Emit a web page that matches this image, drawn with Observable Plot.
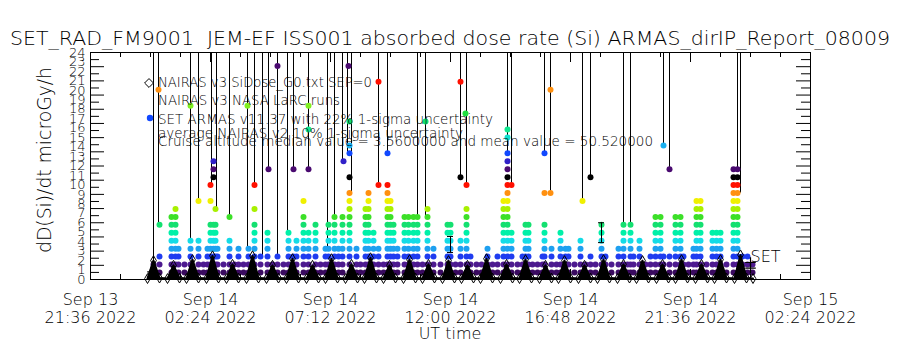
<!DOCTYPE html>
<html><head><meta charset="utf-8">
<script src="https://cdn.jsdelivr.net/npm/d3@7"></script>
<script src="https://cdn.jsdelivr.net/npm/@observablehq/plot@0.6"></script>
<style>body{margin:0;background:#fff;} svg{display:block} svg text{font-weight:200;}</style>
</head><body><div id="chart"></div>
<script>
// ---------- texts ----------
const titleText = "SET_RAD_FM9001  JEM-EF ISS001 absorbed dose rate (Si) ARMAS_dirIP_Report_08009";
const yLabel = "dD(Si)/dt microGy/h";
const xLabel = "UT time";
const legendLines = [
  "NAIRAS v3 SiDose_G0.txt SEP=0",
  "NAIRAS v3 NASA LaRC runs",
  "SET ARMAS v11.37 with 22% 1-sigma uncertainty",
  "average NAIRAS v2 10% 1-sigma uncertainty",
  "Cruise altitude median value = 3.5600000 and mean value = 50.520000"
];
const setLabel = "SET";

// ---------- axes (hours after Sep 13 21:36 UT) ----------
const xTickHours = [0, 4.8, 9.6, 14.4, 19.2, 24, 28.8];
const xTickLabels = ["Sep 13\n21:36 2022","Sep 14\n02:24 2022","Sep 14\n07:12 2022","Sep 14\n12:00 2022","Sep 14\n16:48 2022","Sep 14\n21:36 2022","Sep 15\n02:24 2022"];
const yTickLabels = [0,1,2,3,4,5,6,7,8,9,10,11,12,13,14,15,16,17,18,19,20,21,22,23,24];

// ---------- quantized SET dose levels and their colours ----------
const doseLevels = [0.74,1.58,2.42,3.26,4.10,4.94,5.78,6.62,7.46,8.30,9.14,9.98,10.82,11.66,12.50,13.34,14.18,15.02,15.86,16.70,17.54,18.38,19.22,20.06,20.90,21.74,22.58];
const levelColors = ["#3a0a60","#4d1a8f","#1f3cf0","#1ea0f0","#14dce6","#00f0a8","#14e070","#3ce028","#a8f000","#f0f000","#ff9010","#ff1000","#000000","#4a0a70","#3020c8","#1048ff","#18b0f0","#10e0d0","#10e890","#10e070","#20e040","#80f020","#e8f000","#ff9010","#ff1000","#000000","#4a0a70"];

// SET ARMAS columns: [hour, highest contiguous level]
const setColumns = [
 [2.52,2],[2.76,3],[3.24,8],[3.40,9],[3.52,4],[3.76,2],[4.00,5],[4.32,5],[4.52,2],[4.68,4],
 [4.80,7],[4.92,7],[5.00,7],[5.08,4],[5.32,2],[5.56,5],[5.76,2],[5.92,4],[6.12,2],[6.32,4],
 [6.56,7],[6.80,3],[7.08,6],[7.28,2],[7.48,3],[7.72,2],[7.92,6],[8.12,3],[8.24,5],[8.52,8],
 [8.72,6],[9.00,7],[9.20,2],[9.40,4],[9.52,7],[9.76,8],[9.92,4],[10.08,8],[10.36,11],[10.64,4],
 [10.80,2],[11.00,9],[11.12,11],[11.32,6],[11.52,4],[11.72,2],[11.88,11],[12.00,10],[12.12,7],[12.28,4],
 [12.56,8],[12.72,8],[12.92,8],[13.08,8],[13.28,2],[13.48,9],[13.72,4],[14.00,2],[14.28,7],[14.40,7],
 [14.60,2],[14.80,5],[15.04,9],[15.20,3],[15.44,2],[15.64,2],[15.88,4],[16.08,2],[16.28,3],[16.52,10],
 [16.68,16],[16.84,6],[17.08,2],[17.28,3],[17.40,7],[17.52,7],[17.68,2],[17.88,2],[18.08,3],[18.16,7],
 [18.44,4],[18.64,2],[18.80,6],[19.00,4],[19.12,4],[19.36,2],[19.60,5],[19.80,2],[20.00,3],[20.20,2],
 [20.44,7],[20.60,3],[20.84,2],[21.12,4],[21.32,7],[21.48,2],[21.60,7],[21.72,3],[21.96,5],[22.20,2],
 [22.40,3],[22.60,8],[22.80,8],[22.92,3],[23.16,3],[23.40,8],[23.60,8],[23.72,3],[23.92,2],[24.12,4],
 [24.24,10],[24.40,10],[24.64,2],[24.88,6],[25.04,6],[25.20,6],[25.44,2],[25.72,14],[25.88,14],[26.08,3],
 [26.28,3],[26.48,2]
];
// isolated SET points: [hour, level]
const setIsolated = [
 [2.76,7],[2.72,24],[4.00,22],[4.32,10],[4.80,10],[4.80,12],[4.92,13],[4.92,14],[4.92,15],[5.00,9],
 [5.56,8],[6.28,22],[6.56,9],[6.56,12],[7.12,14],[7.48,27],[8.12,14],[8.52,10],[8.72,14],[8.72,19],
 [8.72,22],[10.12,15],[10.36,13],[10.36,16],[10.36,17],[10.36,20],[10.32,27],[11.52,12],[11.52,25],[11.88,12],
 [11.88,16],[13.40,20],[14.80,13],[14.80,25],[15.04,12],[15.00,21],[16.68,18],[16.68,19],[16.84,12],[18.16,11],
 [18.16,16],[18.40,11],[18.40,24],[19.68,10],[20.00,13],[22.92,17],[23.16,14]
];
// SET excursions running off the top of the chart: [hour, level where they start]
const setSpikes = [
 [2.52,1],[2.72,7],[4.00,5],[4.32,10],[4.84,12],[5.04,9],[5.56,8],[6.28,4],[6.56,12],[6.88,3],
 [7.12,14],[7.48,3],[7.88,6],[8.12,14],[8.72,14],[9.48,4],[9.76,8],[10.08,15],[10.28,16],[10.44,11],
 [11.52,12],[11.88,16],[13.08,8],[13.40,8],[14.80,13],[15.04,12],[16.68,16],[16.84,12],[18.16,16],[18.40,11],
 [19.68,10],[20.00,13],[21.32,7],[21.60,7],[22.92,17],[23.16,14],[25.88,14],[26.00,11]
];

// NAIRAS v3 SiDose (diamonds)
const nairasHours = [2.28,2.52,2.76, 3.08,3.32,3.56, 3.84,4.08,4.32, 4.64,4.88,5.12, 5.44,5.68,5.92, 6.24,6.48,6.72, 7.04,7.28,7.52, 7.84,8.08,8.32, 8.64,8.88,9.12, 9.40,9.64,9.88, 10.20,10.44,10.68, 10.96,11.20,11.44, 11.72,11.96,12.20, 12.52,12.76,13.00, 13.28,13.52,13.76, 14.08,14.32,14.56, 14.84,15.08,15.32, 15.60,15.84,16.08, 16.40,16.64,16.88, 17.16,17.40,17.64, 17.96,18.20,18.44, 18.72,18.96,19.20, 19.52,19.76,20.00, 20.28,20.52,20.76, 21.08,21.32,21.56, 21.84,22.08,22.32, 22.64,22.88,23.12, 23.40,23.64,23.88, 24.20,24.44,24.68, 24.96,25.20,25.44, 25.76,26.00,26.24, 26.50];
const nairasDose  = [0.10,2.0,0.15, 0.10,1.5,0.15, 0.10,2.1,0.15, 0.10,2.5,0.15, 0.10,1.6,0.15, 0.10,2.5,0.15, 0.10,1.5,0.15, 0.10,2.2,0.15, 0.10,1.5,0.15, 0.10,2.2,0.15, 0.10,1.6,0.15, 0.10,2.3,0.15, 0.10,1.5,0.15, 0.10,2.1,0.15, 0.10,1.6,0.15, 0.10,2.0,0.15, 0.10,1.5,0.15, 0.10,2.2,0.15, 0.10,1.6,0.15, 0.10,2.1,0.15, 0.10,1.5,0.15, 0.10,2.0,0.15, 0.10,1.5,0.15, 0.10,2.1,0.15, 0.10,1.6,0.15, 0.10,2.0,0.15, 0.10,1.6,0.15, 0.10,2.1,0.15, 0.10,1.6,0.15, 0.10,2.1,0.15, 0.10,2.6,0.15, 0.10];
// NAIRAS LaRC runs (plus)
const larcHours = [2.48, 26.40, 26.40];
const larcDose  = [0.8, 1.2, 1.8];
// NAIRAS v2 10% error bars
const errHours = [14.40, 20.44];
const errLow   = [2.85, 3.9];
const errHigh  = [4.55, 6.0];
const setLabelPos = [26.4, 2.4];

// ---------- tables ----------
const setPts = [];
setColumns.forEach(([h, top]) => { for (let k = 1; k <= top; k++) setPts.push({h, k, dose: doseLevels[k-1]}); });
setIsolated.forEach(([h, k]) => setPts.push({h, k, dose: doseLevels[k-1]}));
const spikes = setSpikes.map(([h, k]) => ({h, base: doseLevels[k-1]}));
const nairas = nairasHours.map((h, i) => ({h, dose: nairasDose[i]}));
const larc = larcHours.map((h, i) => ({h, dose: larcDose[i]}));
const errs = errHours.map((h, i) => ({h, lo: errLow[i], hi: errHigh[i]}));

const W = 900, H = 350, mT = 52, mB = 71, mL = 90, mR = 90;
const fw = W - mL - mR, fh = H - mT - mB;
const xMinor = d3.range(0, 28.81, 1.2);
const yLong = d3.range(0, 24.01, 1.5);
const yShort = d3.range(0.75, 24, 1.5);

const plot = Plot.plot({
  width: W, height: H, marginTop: mT, marginBottom: mB, marginLeft: mL, marginRight: mR,
  x: {domain: [0, 28.8], axis: null},
  y: {domain: [0, 24], axis: null},
  style: {fontFamily: "DejaVu Sans", fontSize: "13px", color: "black", background: "white"},
  marks: [
    Plot.ruleX(spikes, {x: "h", y1: "base", y2: 24, stroke: "black", strokeWidth: 1}),
    Plot.dot(setPts, {x: "h", y: "dose", r: 3, fill: d => levelColors[d.k-1], stroke: "none"}),
    Plot.areaY(nairas, {x: "h", y: "dose", fill: "black"}),
    Plot.line(nairas, {x: "h", y: "dose", stroke: "black", strokeWidth: 2}),
    Plot.dot(nairas, {x: "h", y: "dose", symbol: "diamond", r: 3, stroke: "black", fill: "none", strokeWidth: 1}),
    Plot.dot(larc, {x: "h", y: "dose", symbol: "plus", r: 3.5, stroke: "black", strokeWidth: 1.2}),
    Plot.ruleX(errs, {x: "h", y1: "lo", y2: "hi", stroke: "black"}),
    Plot.ruleY(errs, {y: "lo", x1: d => d.h - 0.12, x2: d => d.h + 0.12, stroke: "black"}),
    Plot.ruleY(errs, {y: "hi", x1: d => d.h - 0.12, x2: d => d.h + 0.12, stroke: "black"}),
    Plot.text([setLabelPos], {x: d => d[0], y: d => d[1], text: () => setLabel, textAnchor: "start", fontSize: 16}),
    // ticks (inward, IDL style)
    Plot.ruleX(xMinor, {x: d => d, insetTop: fh - 5, stroke: "black"}),
    Plot.ruleX(xMinor, {x: d => d, insetBottom: fh - 5, stroke: "black"}),
    Plot.ruleX(xTickHours, {x: d => d, insetTop: fh - 10, stroke: "black"}),
    Plot.ruleX(xTickHours, {x: d => d, insetBottom: fh - 10, stroke: "black"}),
    Plot.ruleY(yLong, {y: d => d, insetRight: fw - 14, stroke: "black"}),
    Plot.ruleY(yShort, {y: d => d, insetRight: fw - 9, stroke: "black"}),
    Plot.ruleY(yLong, {y: d => d, insetLeft: fw - 14, stroke: "black"}),
    Plot.ruleY(yShort, {y: d => d, insetLeft: fw - 9, stroke: "black"}),
    Plot.axisX({anchor: "bottom", ticks: xTickHours, tickFormat: d => xTickLabels[xTickHours.indexOf(d)], tickSize: 0, tickPadding: 12, fontSize: 16, lineHeight: 1.15, label: null}),
    Plot.axisY({anchor: "left", ticks: yTickLabels, tickFormat: d => String(d), tickSize: 0, tickPadding: 5, fontSize: 13, label: null}),
    Plot.frame({stroke: "black", strokeWidth: 1})
  ]
});
document.getElementById("chart").appendChild(plot);

// ---------- titles and legend ----------
const svg = d3.select(plot);
const FONT = "DejaVu Sans";
svg.append("text").attr("x", 10).attr("y", 45).attr("text-anchor", "start").attr("font-family", FONT).attr("font-size", 19)
  .attr("textLength", 880).attr("lengthAdjust", "spacingAndGlyphs").attr("fill", "black").text(titleText);
svg.append("text").attr("transform", "translate(51,160) rotate(-90)").attr("text-anchor", "middle")
  .attr("font-family", FONT).attr("font-size", 19).attr("textLength", 186).attr("lengthAdjust", "spacingAndGlyphs")
  .attr("fill", "black").text(yLabel);
svg.append("text").attr("x", 450).attr("y", 339).attr("text-anchor", "middle").attr("font-family", FONT)
  .attr("font-size", 16).attr("fill", "black").text(xLabel);

const legY = [87, 105, 124, 138, 146];
const legLen = [214, 182, 335, 305, 495];
legendLines.forEach((t, i) => {
  svg.append("text").attr("x", 158).attr("y", legY[i]).attr("text-anchor", "start").attr("font-family", FONT).attr("font-size", 14)
    .attr("textLength", legLen[i]).attr("lengthAdjust", "spacingAndGlyphs").attr("fill", "black").text(t);
});
svg.append("path").attr("d", d3.symbol(d3.symbolDiamond2, 50)()).attr("transform", "translate(149,83)")
  .attr("fill", "white").attr("stroke", "black");
svg.append("path").attr("d", d3.symbol(d3.symbolPlus, 40)()).attr("transform", "translate(149,100)")
  .attr("fill", "black");
svg.append("circle").attr("cx", 150).attr("cy", 118).attr("r", 3.2).attr("fill", levelColors[15]);
</script></body></html>
